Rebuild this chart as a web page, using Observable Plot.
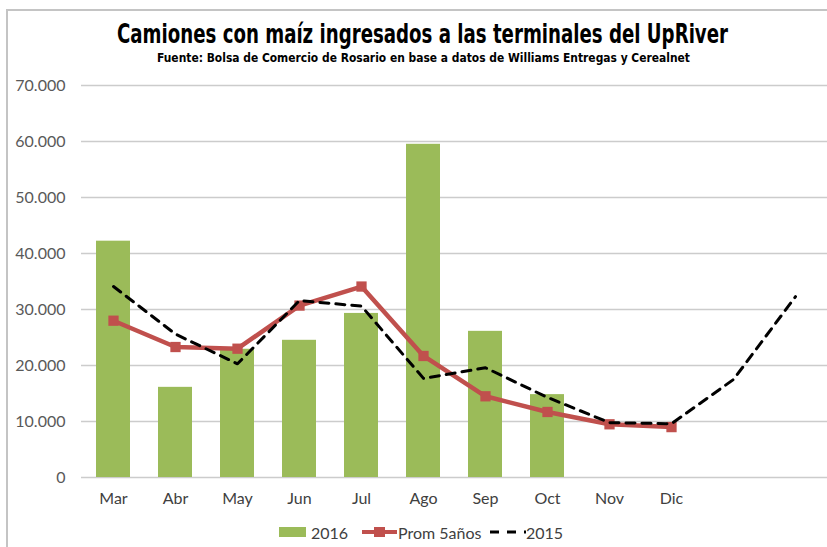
<!DOCTYPE html>
<html>
<head>
<meta charset="utf-8">
<script src="https://cdn.jsdelivr.net/npm/d3@7"></script>
<script src="https://cdn.jsdelivr.net/npm/@observablehq/plot@0.6"></script>
<style>
  html, body { margin: 0; padding: 0; background: #fff; }
  #wrap { position: relative; width: 827px; height: 547px; overflow: hidden; background: #fff; }
  #frame { position: absolute; left: 6px; top: 9px; width: 900px; height: 600px; border-left: 2px solid #c4c4c4; border-top: 2px solid #c4c4c4; }
  #head { position: absolute; left: 0; top: 0; overflow: visible; }
  #head text { font-family: "DejaVu Sans Condensed", "Liberation Sans Narrow", sans-serif; font-weight: bold; fill: #000; }
  #chart { position: absolute; left: 0; top: 70px; }
  #legend { position: absolute; top: 521px; left: 0; width: 827px; height: 22px; }
  #legend .item { position: absolute; top: 0; display: flex; align-items: center; height: 22px;
    font-family: Lato, sans-serif; font-size: 16px; color: #404040; }
  #legend svg { display: block; }
</style>
</head>
<body>
<div id="wrap">
  <div id="frame"></div>
  <svg id="head" width="827" height="70">
    <g transform="translate(422.5,43.4) scale(1,1.13)">
      <text x="0" y="0" text-anchor="middle" font-size="23" textLength="611" lengthAdjust="spacingAndGlyphs">Camiones con maíz ingresados a las terminales del UpRiver</text>
    </g>
    <text x="423.5" y="62" text-anchor="middle" font-size="13" textLength="533" lengthAdjust="spacingAndGlyphs">Fuente: Bolsa de Comercio de Rosario en base a datos de Williams Entregas y Cerealnet</text>
  </svg>
  <div id="chart"></div>
  <div id="legend">
    <div class="item" style="left:279px"><svg width="28" height="10"><rect x="0" y="0" width="27" height="10" fill="#9BBB59"></rect></svg><span style="margin-left:4px">2016</span></div>
    <div class="item" style="left:362px"><svg width="35" height="14"><line x1="0" y1="7" x2="35" y2="7" stroke="#C0504D" stroke-width="4"></line><rect x="12" y="2" width="11" height="10" fill="#C0504D"></rect></svg><span style="margin-left:1px">Prom 5años</span></div>
    <div class="item" style="left:490px"><svg width="36" height="10"><line x1="0" y1="5" x2="36" y2="5" stroke="#000" stroke-width="3" stroke-dasharray="9,8"></line></svg><span style="margin-left:0px">2015</span></div>
  </div>
</div>
<script>
// Categories (x positions). The last two positions carry no visible label in the reference.
const months = ["Mar", "Abr", "May", "Jun", "Jul", "Ago", "Sep", "Oct", "Nov", "Dic", "Ene", "Feb"];
const tickLabels = ["Mar", "Abr", "May", "Jun", "Jul", "Ago", "Sep", "Oct", "Nov", "Dic", "", ""];

// Series values (trucks)
const months2016 = ["Mar", "Abr", "May", "Jun", "Jul", "Ago", "Sep", "Oct"];
const values2016 = [42200, 16100, 22900, 24500, 29300, 59500, 26100, 14800];

const monthsProm = ["Mar", "Abr", "May", "Jun", "Jul", "Ago", "Sep", "Oct", "Nov", "Dic"];
const valuesProm = [28000, 23300, 23000, 30700, 34100, 21700, 14500, 11700, 9500, 9000];

const months2015 = ["Mar", "Abr", "May", "Jun", "Jul", "Ago", "Sep", "Oct", "Nov", "Dic", "Ene", "Feb"];
const values2015 = [34100, 25600, 20300, 31600, 30600, 17700, 19600, 14300, 9800, 9600, 17500, 32300];

const yTicks = [0, 10000, 20000, 30000, 40000, 50000, 60000, 70000];

const bars = months2016.map((m, i) => ({month: m, value: values2016[i]}));
const prom = monthsProm.map((m, i) => ({month: m, value: valuesProm[i]}));
const y2015 = months2015.map((m, i) => ({month: m, value: values2015[i]}));

const fmt = d3.formatLocale({decimal: ",", thousands: ".", grouping: [3], currency: ["", ""]}).format(",");
const labelOf = new Map(months.map((m, i) => [m, tickLabels[i]]));

const chart = Plot.plot({
  width: 827,
  height: 442,
  marginLeft: 81,
  marginRight: 0,
  marginTop: 15,
  marginBottom: 35,
  style: {fontFamily: "Lato, sans-serif", fontSize: "16px", color: "#595959", background: "transparent", overflow: "visible"},
  x: {domain: months, paddingInner: 0.45, paddingOuter: 0.225, label: null},
  y: {domain: [0, 70000], label: null},
  marks: [
    Plot.ruleY(yTicks, {stroke: "#cccccc", strokeWidth: 1.5}),
    Plot.barY(bars, {x: "month", y: "value", fill: "#9BBB59"}),
    Plot.line(prom, {x: "month", y: "value", stroke: "#C0504D", strokeWidth: 4.5, strokeLinejoin: "round"}),
    Plot.dot(prom, {x: "month", y: "value", symbol: "square", r: 5.8, fill: "#C0504D", stroke: "none"}),
    Plot.line(y2015, {x: "month", y: "value", stroke: "#000", strokeWidth: 3, strokeDasharray: "9,7", strokeLinecap: "round"}),
    Plot.axisY(yTicks, {tickSize: 0, tickPadding: 16, tickFormat: fmt, fill: "#595959", fontSize: 16}),
    Plot.axisX({tickSize: 0, tickPadding: 15, tickFormat: d => labelOf.get(d), fill: "#404040", fontSize: 16})
  ]
});
document.getElementById("chart").appendChild(chart);
</script>
</body>
</html>
